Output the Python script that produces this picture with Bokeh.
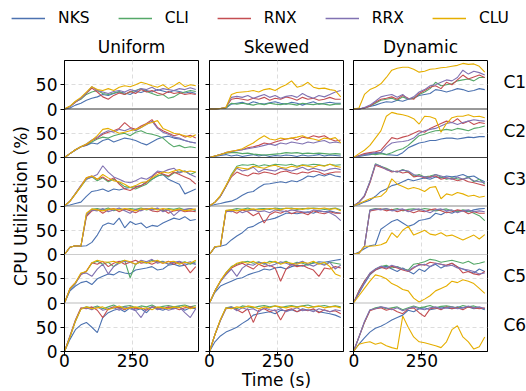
from bokeh.plotting import figure
from bokeh.models import Range1d, FixedTicker, LinearAxis, Span, Legend, LegendItem
from bokeh.layouts import column, row
from bokeh.embed import file_html
from bokeh.resources import INLINE

# ---------------- data ----------------
TIME = list(range(0, 500, 20))  # seconds
SERIES = ["NKS", "CLI", "RNX", "RRX", "CLU"]
COLUMNS = ["Uniform", "Skewed", "Dynamic"]
CONFIGS = ["C1", "C2", "C3", "C4", "C5", "C6"]
X_TICKS = [0, 250]

# Uniform
UNI_C1_NKS = [0, 2, 8, 12, 18, 22, 25, 30, 28, 32, 35, 33, 30, 36, 34, 38, 35, 40, 37, 34, 38, 36, 33, 35, 32]
UNI_C1_CLI = [0, 5, 15, 20, 30, 35, 38, 32, 30, 33, 36, 30, 35, 38, 42, 36, 32, 28, 30, 22, 25, 32, 35, 38, 36]
UNI_C1_RNX = [0, 5, 14, 22, 32, 43, 35, 25, 20, 28, 33, 30, 36, 32, 40, 35, 38, 33, 30, 36, 32, 34, 30, 32, 30]
UNI_C1_RRX = [0, 5, 15, 22, 33, 46, 38, 35, 32, 36, 38, 35, 40, 37, 42, 40, 45, 38, 42, 40, 38, 42, 40, 44, 40]
UNI_C1_CLU = [0, 6, 16, 24, 35, 46, 40, 38, 42, 38, 45, 48, 46, 50, 55, 52, 48, 45, 50, 42, 48, 55, 46, 50, 48]

UNI_C2_NKS = [0, 8, 15, 22, 25, 30, 28, 35, 38, 32, 36, 40, 38, 35, 30, 26, 32, 38, 42, 44, 40, 38, 35, 32, 30]
UNI_C2_CLI = [0, 8, 16, 22, 26, 32, 38, 42, 40, 45, 48, 50, 45, 52, 55, 50, 48, 45, 40, 30, 22, 25, 20, 22, 20]
UNI_C2_RNX = [0, 8, 16, 22, 26, 35, 40, 48, 52, 55, 60, 72, 62, 58, 65, 70, 78, 62, 55, 50, 45, 48, 42, 46, 40]
UNI_C2_RRX = [0, 8, 16, 22, 28, 36, 42, 50, 55, 52, 58, 55, 60, 55, 62, 68, 75, 60, 52, 48, 42, 40, 35, 32, 30]
UNI_C2_CLU = [0, 8, 16, 22, 28, 35, 45, 58, 60, 55, 50, 52, 55, 58, 62, 69, 72, 76, 60, 55, 50, 48, 45, 42, 47]

UNI_C3_NKS = [0, 2, 5, 8, 20, 30, 32, 35, 30, 35, 33, 36, 38, 40, 42, 50, 55, 62, 65, 55, 50, 45, 25, 30, 35]
UNI_C3_CLI = [0, 10, 25, 40, 55, 60, 52, 58, 50, 55, 48, 40, 38, 35, 40, 45, 55, 62, 65, 60, 68, 70, 72, 65, 70]
UNI_C3_RNX = [0, 10, 25, 42, 58, 62, 55, 60, 52, 58, 45, 35, 32, 38, 42, 48, 60, 70, 66, 62, 70, 65, 60, 55, 45]
UNI_C3_RRX = [0, 10, 26, 42, 55, 60, 65, 83, 70, 60, 55, 50, 48, 52, 58, 55, 62, 72, 70, 75, 78, 68, 72, 65, 60]
UNI_C3_CLU = [0, 10, 25, 40, 58, 62, 55, 65, 58, 52, 50, 45, 38, 42, 48, 50, 58, 65, 70, 68, 72, 75, 70, 72, 70]

UNI_C4_NKS = [0, 15, 18, 17, 18, 25, 40, 60, 65, 62, 75, 55, 68, 62, 65, 55, 60, 58, 65, 70, 75, 72, 78, 70, 72]
UNI_C4_CLI = [0, 15, 18, 17, 80, 93, 95, 92, 96, 90, 94, 92, 95, 93, 96, 92, 95, 94, 90, 95, 93, 96, 92, 95, 90]
UNI_C4_RNX = [0, 15, 18, 17, 78, 90, 93, 85, 92, 95, 88, 94, 90, 86, 92, 95, 90, 88, 93, 85, 90, 92, 88, 90, 88]
UNI_C4_RRX = [0, 15, 18, 17, 82, 92, 90, 95, 88, 92, 96, 90, 85, 93, 90, 95, 92, 96, 88, 92, 80, 90, 93, 95, 92]
UNI_C4_CLU = [0, 15, 18, 17, 85, 94, 92, 90, 93, 94, 92, 95, 93, 90, 94, 93, 96, 92, 95, 93, 91, 94, 90, 92, 94]

UNI_C5_NKS = [0, 25, 35, 42, 45, 38, 50, 55, 60, 58, 65, 62, 60, 68, 70, 72, 75, 68, 70, 78, 80, 76, 78, 82, 80]
UNI_C5_CLI = [0, 28, 40, 60, 65, 82, 86, 80, 84, 75, 85, 88, 52, 80, 85, 82, 88, 85, 86, 80, 84, 82, 85, 80, 85]
UNI_C5_RNX = [0, 30, 42, 58, 66, 83, 80, 86, 75, 82, 86, 80, 84, 88, 82, 84, 80, 85, 82, 86, 80, 85, 78, 62, 75]
UNI_C5_RRX = [0, 28, 40, 60, 62, 55, 70, 80, 60, 75, 82, 86, 84, 80, 88, 85, 90, 82, 85, 80, 84, 86, 82, 85, 80]
UNI_C5_CLU = [0, 30, 42, 62, 65, 83, 88, 85, 84, 86, 82, 88, 85, 80, 86, 83, 85, 88, 82, 85, 86, 80, 84, 82, 88]

UNI_C6_NKS = [0, 25, 45, 55, 60, 50, 39, 70, 80, 85, 88, 82, 90, 85, 88, 80, 92, 88, 85, 90, 88, 92, 85, 90, 88]
UNI_C6_CLI = [0, 30, 62, 88, 92, 90, 94, 88, 92, 96, 90, 93, 95, 90, 94, 92, 96, 90, 93, 95, 92, 94, 96, 92, 95]
UNI_C6_RNX = [0, 32, 65, 90, 88, 92, 85, 70, 88, 92, 90, 86, 92, 88, 90, 85, 92, 90, 88, 92, 90, 86, 90, 92, 90]
UNI_C6_RRX = [0, 32, 64, 88, 90, 86, 92, 85, 88, 90, 85, 92, 88, 84, 70, 88, 92, 86, 90, 85, 88, 92, 80, 70, 88]
UNI_C6_CLU = [0, 30, 63, 87, 92, 88, 90, 92, 86, 90, 94, 88, 90, 92, 88, 90, 86, 92, 90, 88, 92, 90, 94, 88, 92]

# Skewed
SKW_C1_NKS = [0, 0, 1, 2, 10, 12, 14, 10, 15, 12, 10, 13, 15, 12, 10, 14, 12, 8, 12, 15, 10, 12, 14, 12, 12]
SKW_C1_CLI = [0, 0, 1, 2, 12, 10, 12, 10, 8, 11, 9, 12, 10, 9, 11, 10, 8, 12, 10, 9, 11, 10, 8, 10, 10]
SKW_C1_RNX = [0, 0, 1, 3, 20, 22, 20, 18, 22, 20, 24, 18, 22, 20, 25, 22, 18, 24, 20, 22, 18, 20, 24, 20, 20]
SKW_C1_RRX = [0, 0, 1, 3, 24, 26, 24, 28, 22, 26, 30, 24, 28, 22, 26, 28, 24, 32, 26, 22, 28, 25, 30, 35, 38]
SKW_C1_CLU = [0, 0, 1, 3, 30, 34, 35, 36, 38, 35, 40, 42, 38, 45, 50, 58, 45, 48, 55, 45, 42, 43, 40, 38, 25]

SKW_C2_NKS = [0, 2, 4, 6, 3, 5, 2, 4, 6, 3, 5, 2, 4, 3, 5, 4, 2, 5, 3, 4, 6, 3, 5, 4, 3]
SKW_C2_CLI = [0, 3, 6, 9, 10, 10, 8, 9, 7, 6, 5, 6, 7, 8, 10, 9, 10, 8, 9, 8, 9, 8, 7, 8, 7]
SKW_C2_RNX = [0, 3, 6, 10, 12, 15, 16, 20, 22, 25, 30, 28, 32, 35, 38, 40, 36, 42, 40, 45, 42, 45, 38, 34, 36]
SKW_C2_RRX = [0, 3, 6, 10, 13, 14, 16, 18, 20, 22, 25, 28, 25, 30, 28, 32, 30, 28, 32, 30, 33, 35, 30, 32, 30]
SKW_C2_CLU = [0, 3, 6, 10, 13, 15, 18, 24, 30, 38, 45, 38, 36, 40, 38, 40, 42, 45, 40, 38, 35, 40, 38, 41, 30]

SKW_C3_NKS = [0, 3, 5, 8, 10, 15, 22, 28, 30, 38, 45, 46, 48, 50, 48, 52, 50, 55, 62, 60, 65, 62, 66, 62, 60]
SKW_C3_CLI = [0, 8, 20, 40, 65, 82, 85, 84, 86, 82, 85, 83, 86, 85, 84, 86, 82, 85, 84, 86, 85, 83, 86, 84, 85]
SKW_C3_RNX = [0, 8, 20, 40, 60, 70, 65, 62, 68, 66, 70, 68, 65, 70, 72, 68, 66, 70, 68, 72, 70, 65, 68, 70, 70]
SKW_C3_RRX = [0, 8, 20, 40, 62, 78, 72, 75, 80, 70, 76, 74, 72, 78, 75, 72, 76, 80, 74, 78, 75, 72, 76, 78, 75]
SKW_C3_CLU = [0, 8, 22, 42, 63, 80, 78, 76, 82, 80, 78, 82, 84, 80, 78, 82, 80, 84, 82, 80, 84, 82, 86, 82, 80]

SKW_C4_NKS = [0, 15, 17, 20, 30, 38, 45, 55, 58, 65, 70, 72, 75, 80, 85, 85, 84, 86, 88, 85, 90, 88, 90, 87, 85]
SKW_C4_CLI = [0, 16, 17, 90, 92, 95, 93, 96, 92, 94, 95, 93, 96, 94, 95, 96, 93, 95, 94, 96, 95, 93, 94, 96, 92]
SKW_C4_RNX = [0, 16, 17, 88, 90, 85, 92, 88, 80, 86, 65, 82, 88, 85, 90, 84, 88, 86, 82, 90, 86, 84, 88, 85, 85]
SKW_C4_RRX = [0, 16, 17, 90, 88, 92, 86, 90, 92, 88, 90, 86, 92, 90, 88, 92, 90, 88, 86, 92, 90, 88, 86, 80, 70]
SKW_C4_CLU = [0, 16, 18, 91, 92, 90, 93, 92, 94, 92, 93, 95, 94, 92, 96, 94, 95, 93, 96, 95, 94, 96, 93, 95, 90]

SKW_C5_NKS = [0, 22, 35, 40, 45, 50, 52, 58, 62, 65, 70, 68, 72, 74, 70, 75, 78, 76, 80, 82, 85, 84, 86, 88, 90]
SKW_C5_CLI = [0, 25, 45, 62, 75, 80, 84, 86, 82, 85, 80, 86, 84, 82, 86, 80, 84, 82, 78, 84, 82, 80, 84, 82, 80]
SKW_C5_RNX = [0, 25, 45, 60, 72, 78, 82, 76, 70, 80, 75, 78, 72, 45, 70, 80, 75, 78, 72, 68, 55, 72, 70, 75, 72]
SKW_C5_RRX = [0, 25, 44, 58, 70, 55, 72, 80, 78, 84, 82, 76, 80, 85, 82, 78, 82, 86, 80, 76, 82, 78, 84, 70, 78]
SKW_C5_CLU = [0, 25, 46, 62, 74, 82, 85, 82, 86, 80, 84, 82, 86, 80, 84, 82, 80, 84, 82, 86, 80, 84, 75, 60, 55]

SKW_C6_NKS = [0, 20, 32, 40, 45, 50, 58, 65, 75, 78, 80, 82, 78, 85, 84, 86, 82, 88, 85, 86, 82, 80, 78, 75, 70]
SKW_C6_CLI = [0, 35, 65, 90, 92, 88, 94, 92, 90, 93, 95, 92, 94, 90, 93, 95, 92, 94, 96, 92, 93, 95, 92, 94, 92]
SKW_C6_RNX = [0, 35, 65, 88, 90, 86, 80, 88, 60, 85, 88, 82, 86, 65, 85, 88, 82, 86, 84, 88, 80, 86, 82, 84, 78]
SKW_C6_RRX = [0, 35, 64, 88, 92, 84, 90, 86, 88, 82, 90, 86, 84, 88, 82, 86, 90, 84, 86, 82, 88, 85, 82, 86, 84]
SKW_C6_CLU = [0, 35, 66, 90, 88, 92, 90, 94, 92, 88, 92, 90, 94, 92, 90, 93, 91, 94, 90, 92, 94, 90, 92, 93, 90]

# Dynamic
DYN_C1_NKS = [0, 0, 2, 5, 8, 12, 15, 14, 18, 16, 20, 22, 28, 30, 32, 40, 38, 35, 38, 42, 40, 36, 38, 42, 40]
DYN_C1_CLI = [0, 0, 2, 6, 12, 18, 20, 22, 18, 25, 20, 22, 30, 35, 42, 55, 48, 50, 52, 58, 60, 62, 58, 65, 65]
DYN_C1_RNX = [0, 0, 2, 6, 14, 20, 22, 25, 20, 28, 22, 20, 32, 38, 45, 48, 42, 55, 50, 60, 70, 62, 66, 70, 65]
DYN_C1_RRX = [0, 0, 3, 8, 16, 25, 28, 30, 24, 30, 20, 25, 35, 40, 48, 50, 55, 60, 58, 65, 80, 72, 78, 75, 70]
DYN_C1_CLU = [0, 2, 30, 40, 45, 52, 65, 80, 84, 86, 86, 82, 76, 78, 82, 83, 85, 86, 88, 90, 94, 92, 93, 88, 76]

DYN_C2_NKS = [0, 2, 4, 6, 8, 10, 6, 5, 4, 10, 20, 25, 30, 32, 35, 35, 38, 40, 40, 38, 40, 42, 41, 43, 43]
DYN_C2_CLI = [0, 3, 6, 8, 6, 8, 6, 10, 15, 18, 25, 35, 45, 48, 52, 55, 56, 58, 56, 60, 58, 55, 60, 62, 65]
DYN_C2_RNX = [0, 4, 8, 10, 12, 15, 28, 41, 38, 42, 45, 50, 55, 52, 60, 65, 70, 75, 72, 80, 70, 75, 68, 72, 70]
DYN_C2_RRX = [0, 3, 6, 8, 10, 10, 22, 30, 32, 33, 35, 40, 50, 55, 58, 60, 65, 70, 72, 68, 72, 75, 78, 76, 75]
DYN_C2_CLU = [0, 8, 15, 25, 40, 55, 85, 93, 90, 88, 85, 80, 69, 85, 84, 80, 52, 70, 82, 85, 85, 88, 84, 85, 82]

DYN_C3_NKS = [0, 3, 8, 12, 20, 30, 35, 42, 45, 50, 55, 52, 55, 58, 55, 60, 58, 62, 60, 62, 65, 60, 62, 55, 50]
DYN_C3_CLI = [0, 8, 20, 50, 87, 82, 78, 72, 70, 75, 70, 62, 65, 60, 62, 65, 60, 55, 58, 56, 55, 60, 50, 55, 45]
DYN_C3_RNX = [0, 8, 20, 48, 84, 80, 76, 70, 72, 68, 70, 60, 62, 58, 60, 62, 55, 58, 56, 52, 55, 50, 48, 45, 42]
DYN_C3_RRX = [0, 8, 22, 50, 86, 82, 75, 72, 70, 74, 72, 65, 62, 60, 58, 65, 62, 58, 55, 60, 55, 58, 52, 50, 48]
DYN_C3_CLU = [0, 5, 10, 15, 18, 20, 30, 56, 45, 40, 35, 38, 35, 30, 38, 40, 15, 25, 22, 28, 25, 20, 22, 18, 20]

DYN_C4_NKS = [0, 5, 12, 18, 20, 52, 60, 68, 72, 65, 58, 62, 70, 72, 75, 85, 82, 88, 85, 90, 90, 88, 92, 94, 95]
DYN_C4_CLI = [0, 3, 17, 92, 95, 93, 94, 92, 95, 90, 93, 94, 92, 95, 93, 90, 92, 94, 90, 88, 92, 90, 85, 80, 70]
DYN_C4_RNX = [0, 3, 17, 90, 92, 94, 90, 93, 88, 92, 90, 86, 90, 88, 92, 94, 90, 86, 88, 92, 90, 84, 88, 85, 85]
DYN_C4_RRX = [0, 3, 17, 91, 94, 92, 95, 90, 92, 94, 88, 92, 94, 90, 86, 92, 94, 90, 92, 86, 90, 92, 88, 90, 88]
DYN_C4_CLU = [0, 3, 17, 17, 18, 20, 25, 45, 35, 50, 58, 40, 45, 50, 42, 40, 45, 38, 40, 35, 30, 35, 40, 32, 41]

DYN_C5_NKS = [0, 20, 40, 58, 68, 72, 76, 70, 65, 72, 66, 60, 70, 65, 75, 80, 72, 78, 82, 74, 70, 65, 62, 70, 65]
DYN_C5_CLI = [0, 25, 45, 60, 70, 75, 78, 72, 75, 70, 68, 80, 82, 85, 90, 88, 84, 86, 88, 85, 82, 86, 80, 82, 85]
DYN_C5_RNX = [0, 25, 45, 60, 68, 74, 70, 76, 72, 68, 65, 72, 80, 78, 84, 82, 80, 78, 82, 75, 62, 65, 60, 58, 65]
DYN_C5_RRX = [0, 22, 42, 62, 70, 76, 72, 78, 74, 70, 66, 74, 78, 80, 75, 82, 80, 76, 78, 72, 70, 68, 65, 60, 62]
DYN_C5_CLU = [0, 15, 30, 45, 58, 55, 50, 40, 35, 28, 25, 10, 2, 8, 15, 25, 30, 35, 45, 42, 48, 45, 40, 30, 20]

DYN_C6_NKS = [0, 15, 28, 40, 48, 52, 58, 65, 70, 75, 85, 82, 88, 90, 86, 88, 92, 90, 88, 92, 90, 92, 88, 90, 86]
DYN_C6_CLI = [0, 30, 60, 85, 90, 92, 88, 90, 92, 86, 90, 94, 90, 92, 95, 90, 93, 94, 92, 90, 95, 92, 94, 90, 88]
DYN_C6_RNX = [0, 30, 60, 84, 88, 90, 85, 88, 82, 78, 88, 90, 80, 72, 88, 90, 86, 92, 88, 90, 86, 92, 90, 88, 90]
DYN_C6_RRX = [0, 30, 62, 86, 88, 92, 90, 86, 90, 84, 88, 92, 88, 86, 90, 92, 88, 90, 92, 88, 90, 94, 90, 92, 88]
DYN_C6_CLU = [0, 15, 18, 20, 15, 18, 12, 8, 5, 73, 50, 30, 20, 18, 15, 12, 8, 20, 45, 53, 30, 20, 5, 10, 30]

# table built from the named lists
_g = globals()
PREFIX = {"Uniform": "UNI", "Skewed": "SKW", "Dynamic": "DYN"}
DATA = {(c, cfg, s): _g[f"{PREFIX[c]}_{cfg}_{s}"] for c in COLUMNS for cfg in CONFIGS for s in SERIES}

# ---------------- style ----------------
COLORS = {"NKS": "#4C72B0", "CLI": "#55A868", "RNX": "#C44E52", "RRX": "#8172B2", "CLU": "#E5AE00"}
FONT = "DejaVu Sans"
ROW_SPAN = 100
N = len(CONFIGS)
SEP_COLORS = {1: "#bbbbbb", 2: "#cccccc", 3: "#888888", 4: "#444444", 5: "#333333"}

y_ticks = [k * 50 for k in range(2 * N)]
y_labels = {t: ("0" if t % 100 == 0 else "50") for t in y_ticks}
grid_ticks = [50 + 100 * k for k in range(N)]


def make_panel(ci, name):
    p = figure(frame_width=134, frame_height=291,
               x_range=Range1d(0, 490), y_range=Range1d(0, ROW_SPAN * N),
               output_backend="svg", toolbar_location=None, title=name,
               min_border_left=(64 if ci == 0 else (6 if ci == 1 else 5)),
               min_border_right=(5 if ci < 2 else 31),
               min_border_top=0, min_border_bottom=0)
    p.title.align = "center"
    p.title.text_font = FONT
    p.title.text_font_size = "17px"
    p.title.text_font_style = "normal"
    p.title.text_color = "black"
    p.title.standoff = 8
    p.outline_line_color = "black"
    p.outline_line_width = 1

    p.xaxis.ticker = FixedTicker(ticks=X_TICKS)
    p.yaxis.ticker = FixedTicker(ticks=y_ticks)
    if ci == 0:
        p.yaxis.major_label_overrides = y_labels
        p.yaxis.axis_label = "CPU Utilization (%)"
    else:
        p.yaxis.major_label_overrides = {t: "" for t in y_ticks}
        p.yaxis.major_label_standoff = 0
    if ci == 1:
        p.xaxis.axis_label = "Time (s)"
    for ax in (p.xaxis, p.yaxis):
        ax.major_tick_in = 0
        ax.major_tick_out = 4
        ax.minor_tick_line_color = None
        ax.major_label_text_font = FONT
        ax.major_label_text_font_size = "17px"
        ax.major_label_text_color = "black"
        ax.axis_label_text_font = FONT
        ax.axis_label_text_font_size = "17px"
        ax.axis_label_text_font_style = "normal"
        ax.axis_label_text_color = "black"
        ax.axis_line_color = "black"
    p.xaxis.major_label_standoff = -2
    p.xaxis.axis_label_standoff = 0
    p.yaxis.axis_label_standoff = 2
    if ci == 0:
        p.yaxis.major_label_standoff = 3

    p.xgrid.grid_line_color = "#dddddd"
    p.xgrid.grid_line_dash = "4 3"
    p.ygrid.ticker = FixedTicker(ticks=grid_ticks)
    p.ygrid.grid_line_color = "#dddddd"
    p.ygrid.grid_line_dash = "4 3"

    for ri, cfg in enumerate(CONFIGS):
        offset = ROW_SPAN * (N - 1 - ri)
        for s in SERIES:
            ys = [v + offset for v in DATA[(name, cfg, s)]]
            p.line(TIME, ys, line_color=COLORS[s], line_width=1.1)

    for k in range(1, N):
        p.add_layout(Span(location=ROW_SPAN * k, dimension="width",
                          line_color=SEP_COLORS[k], line_width=1))

    if ci == 2:
        rax = LinearAxis(ticker=FixedTicker(ticks=[55 + 100 * k for k in range(N)]),
                         major_label_overrides={55 + 100 * k: CONFIGS[N - 1 - k] for k in range(N)},
                         axis_line_color=None, major_tick_line_color=None,
                         minor_tick_line_color=None, major_label_standoff=10,
                         major_label_text_font=FONT, major_label_text_font_size="17px",
                         major_label_text_color="black")
        p.add_layout(rax, "right")
    return p


panels = [make_panel(i, c) for i, c in enumerate(COLUMNS)]

# legend strip (one-point lines: nothing drawn, only legend swatches)
lp = figure(width=520, height=30, output_backend="svg", toolbar_location=None,
            x_range=Range1d(0, 1), y_range=Range1d(0, 1),
            x_axis_type=None, y_axis_type=None, min_border=0)
lp.outline_line_color = None
lp.grid.visible = False
items = []
for s in SERIES:
    r = lp.line(x=[0], y=[0], line_color=COLORS[s], line_width=1.3)
    items.append(LegendItem(label=s, renderers=[r]))
leg = Legend(items=items, orientation="horizontal", location="top_center",
             border_line_color=None, background_fill_alpha=0,
             label_text_font=FONT, label_text_font_size="15.5px",
             label_text_color="black",
             glyph_width=34, label_standoff=13, spacing=28, padding=0, margin=8)
lp.add_layout(leg, "center")

layout = column(lp, row(*panels, spacing=0), spacing=0)

open("out.html", "w").write(file_html(layout, INLINE))
